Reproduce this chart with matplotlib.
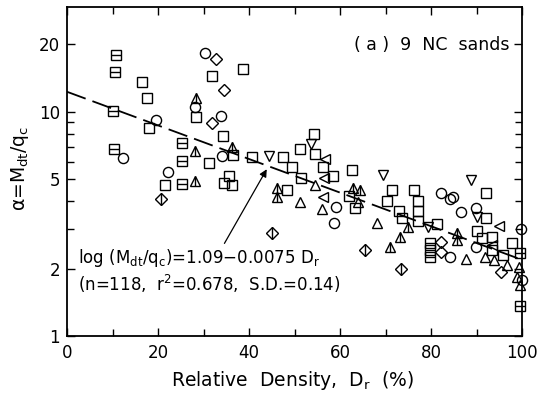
import matplotlib
matplotlib.use('Agg')
import matplotlib.pyplot as plt
import numpy as np
from matplotlib.ticker import FixedLocator, FixedFormatter, NullFormatter

plt.rcParams['font.family'] = ['DejaVu Sans']
plt.rcParams['mathtext.fontset'] = 'dejavusans'

# ---------------- data ----------------
sq_x = [16.4, 17.5, 18.1, 31.8, 28.4, 34.2, 36.4, 31.3, 35.5, 34.4, 36.3, 21.5, 38.7,
        40.6, 47.4, 49.4, 51.4, 51.2, 54.3, 54.6, 56.3, 58.5, 48.3, 62.6, 62.0, 63.3,
        71.4, 70.3, 73.0, 73.6, 76.3, 77.2, 77.2, 77.2, 81.4, 92.1, 92.1, 90.0, 91.1,
        93.3, 97.7, 93.3, 95.9]
sq_y = [13.6, 11.5, 8.5, 14.5, 9.5, 7.8, 6.4, 5.9, 5.2, 4.8, 4.7, 4.7, 15.5,
        6.3, 6.3, 5.7, 5.06, 6.8, 8.0, 6.5, 5.66, 5.18, 4.5, 5.5, 4.2, 3.72,
        4.49, 4.02, 3.63, 3.35, 4.49, 4.02, 3.63, 3.26, 3.16, 4.34, 3.35, 2.95, 2.73,
        2.76, 2.59, 2.42, 2.30]

sqh_x = [10.7, 10.5, 10.2, 10.4, 25.2, 25.2, 25.3, 79.8, 79.8, 79.8, 99.6, 99.6]
sqh_y = [17.9, 15.1, 10.1, 6.84, 7.25, 6.04, 4.77, 2.60, 2.42, 2.25, 2.35, 1.36]

ci_x = [19.6, 12.4, 22.3, 30.3, 28.1, 33.8, 34.1, 59.1, 58.7, 82.3, 84.2, 84.9,
        86.5, 89.8, 84.2, 89.8, 99.7, 100.0]
ci_y = [9.2, 6.25, 5.38, 18.4, 10.5, 9.6, 6.36, 3.78, 3.18, 4.36, 4.08, 4.19,
        3.59, 3.74, 2.26, 2.50, 3.0, 1.78]

tri_x = [54.4, 51.2, 56.0, 64.0, 68.2, 87.8, 91.9, 93.9, 96.6, 99.4, 98.8, 99.6]
tri_y = [4.70, 3.98, 3.70, 3.98, 3.18, 2.21, 2.25, 2.18, 2.07, 2.04, 1.84, 1.69]

trl_x = [28.3, 28.1, 36.3, 28.1, 46.2, 46.2, 62.8, 64.4, 75.0, 73.2, 71.0, 85.8, 85.8]
trl_y = [11.5, 6.7, 7.0, 4.94, 4.58, 4.18, 4.58, 4.50, 3.06, 2.77, 2.50, 2.87, 2.68]

dia_x = [32.7, 34.4, 31.8, 82.2, 82.3, 95.3]
dia_y = [17.2, 12.5, 8.96, 2.64, 2.38, 1.94]

dil_x = [20.7, 45.1, 65.5, 73.3]
dil_y = [4.08, 2.89, 2.42, 2.00]

inv_x = [44.5, 53.6, 69.5, 79.3, 88.9, 90.0]
inv_y = [6.36, 7.2, 5.23, 3.08, 4.97, 3.41]

lt_x = [56.6, 56.5, 56.2, 94.9, 93.3]
lt_y = [6.15, 5.09, 4.16, 3.10, 2.55]

fit_intercept = 1.09
fit_slope = -0.0075

x_ticks = [0, 20, 40, 60, 80, 100]
x_ticklabels = ['0', '20', '40', '60', '80', '100']
y_ticks = [1, 2, 5, 10, 20]
y_ticklabels = ['1', '2', '5', '10', '20']

# ---------------- figure ----------------
W, H = 538, 397
fig = plt.figure(figsize=(W / 100, H / 100), dpi=100)
L, R, T, B = 67, 522, 7, 336
ax = fig.add_axes([L / W, (H - B) / H, (R - L) / W, (B - T) / H])
ax.set_yscale('log')
ax.set_xlim(0, 100)
ax.set_ylim(1, 29.4)

mew = 1.0
kw = dict(linestyle='none', color='k', mfc='none', mew=mew, clip_on=False, zorder=3)

ax.plot(sq_x, sq_y, marker='s', ms=6.9, **kw)
ax.plot(sqh_x, sqh_y, marker='s', ms=6.9, **kw)
ax.plot(sqh_x, sqh_y, marker='_', ms=6.9, **kw)
ax.plot(ci_x, ci_y, marker='o', ms=7.3, **kw)
ax.plot(tri_x, tri_y, marker='^', ms=7.7, **kw)
ax.plot(trl_x, trl_y, marker='^', ms=7.7, **kw)
ax.plot(trl_x, trl_y, marker='|', ms=7.7, **kw)
ax.plot(dia_x, dia_y, marker='D', ms=6.6, **kw)
ax.plot(dil_x, dil_y, marker='D', ms=6.6, **kw)
ax.plot(dil_x, dil_y, marker='|', ms=9.3, **kw)
ax.plot(inv_x, inv_y, marker='v', ms=7.7, **kw)
ax.plot(lt_x, lt_y, marker='<', ms=7.7, **kw)

# regression line
xr = np.array([0.0, 100.0])
yr = 10 ** (fit_intercept + fit_slope * xr)
ln, = ax.plot(xr, yr, color='k', lw=1.3, zorder=2)
ln.set_dashes((11, 4))

# arrow
ax.annotate('', xy=(43.9, 5.55), xytext=(34.6, 2.59),
            arrowprops=dict(arrowstyle='-|>', color='k', lw=0.9,
                            mutation_scale=11, shrinkA=0, shrinkB=0))

# ticks
ax.xaxis.set_major_locator(FixedLocator(x_ticks))
ax.xaxis.set_major_formatter(FixedFormatter(x_ticklabels))
ax.xaxis.set_minor_locator(FixedLocator([10, 30, 50, 70, 90]))
ax.yaxis.set_major_locator(FixedLocator(y_ticks))
ax.yaxis.set_major_formatter(FixedFormatter(y_ticklabels))
ax.yaxis.set_minor_locator(FixedLocator([3, 4, 6, 7, 8, 9]))
ax.yaxis.set_minor_formatter(NullFormatter())
ax.tick_params(which='both', direction='in', top=True, right=True, width=1.0,
               labelsize=12)
ax.tick_params(which='major', length=6)
ax.tick_params(which='minor', length=5)
ax.tick_params(axis='x', pad=6)
ax.tick_params(axis='y', pad=5)
for s in ax.spines.values():
    s.set_linewidth(1.3)

def axfrac(px, py):
    return (px - L) / (R - L), (B - py) / (B - T)

ax.text(*axfrac(510, 45), '( a )  9  NC  sands', transform=ax.transAxes,
        ha='right', va='center', fontsize=12.5)
ax.text(*axfrac(78, 258),
        r'log (M$_{\mathrm{dt}}$/q$_{\mathrm{c}}$)=1.09$-$0.0075 D$_{\mathrm{r}}$',
        transform=ax.transAxes, ha='left', va='center', fontsize=12)
ax.text(*axfrac(78, 284), r'(n=118,  r$^{2}$=0.678,  S.D.=0.14)',
        transform=ax.transAxes, ha='left', va='center', fontsize=12)

fig.text(292 / W, 1 - 381 / H, r'Relative  Density,  D$_{\mathrm{r}}$  (%)',
         ha='center', va='center', fontsize=13.5)
fig.text(20 / W, 1 - 168 / H, r'α=M$_{\mathrm{dt}}$/q$_{\mathrm{c}}$',
         ha='center', va='center', rotation=90, fontsize=13.5)

fig.savefig('out.png', dpi=100)
